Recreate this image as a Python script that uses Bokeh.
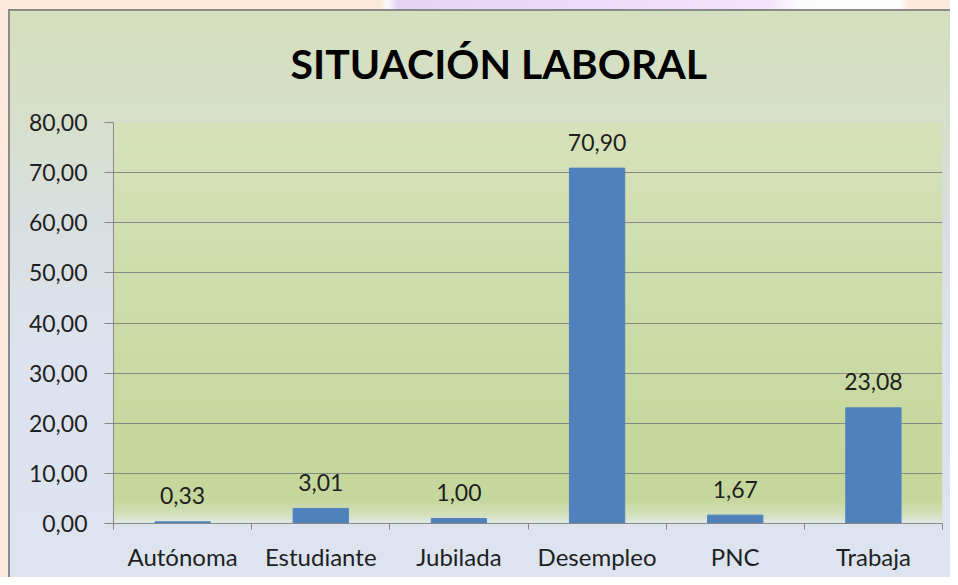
import numpy as np
from bokeh.plotting import figure
from bokeh.models import ColumnDataSource, FixedTicker, Range1d
from bokeh.core.properties import value
from bokeh.embed import file_html
from bokeh.resources import INLINE

# ---- data ----
categories = ["Autónoma", "Estudiante", "Jubilada", "Desempleo", "PNC", "Trabaja"]
values = [0.33, 3.01, 1.00, 70.90, 1.67, 23.08]
y_ticks = [0, 10, 20, 30, 40, 50, 60, 70, 80]
title_text = "SITUACIÓN LABORAL"

FONT = "Lato"
TEXT = "#1f1f1f"
GRID = "#878787"
PEACH = "#fde9dc"

n = len(categories)
centers = [i + 0.5 for i in range(n)]
bounds = list(range(n + 1))
labels = [f"{v:.2f}".replace(".", ",") for v in values]

src = ColumnDataSource(dict(x=centers, top=values, label=labels))

p = figure(width=950, height=577, output_backend="svg", toolbar_location=None,
           x_range=Range1d(bounds[0], bounds[-1]),
           y_range=Range1d(y_ticks[0], y_ticks[-1]),
           min_border_left=113, min_border_right=8,
           min_border_top=122, min_border_bottom=54)

# chart-area background (CSS layers behind a transparent canvas)
p.border_fill_color = None
p.background_fill_color = None
p.outline_line_color = None
p.styles = {
    "background": ", ".join([
        f"linear-gradient({PEACH},{PEACH}) left top / 8px 100% no-repeat",
        f"linear-gradient(to right, {PEACH} 0px, {PEACH} 380px, #fbf8fd 388px, #e3d3f5 398px, "
        f"#ecdcfb 600px, #f3e4fb 770px, #fbfafc 795px, #fdfcfd 900px, {PEACH} 908px) left top / 100% 9px no-repeat",
        "linear-gradient(#8a8a8a,#8a8a8a) 8px 9px / 2px 100% no-repeat",
        "linear-gradient(#8a8a8a,#8a8a8a) 8px 9px / 100% 2px no-repeat",
        "linear-gradient(to bottom, #d4dfbb 0%, #d6dfc8 18%, #d9dfe0 38%, #dce3ee 60%, #dde4f0 100%)",
    ]),
}

# plot-area green gradient (decoration)
rows = 400
ys = np.linspace(y_ticks[0], y_ticks[-1], rows)
stop_y = [0.0, 1.5, 4.5, 10.0, 80.0]
stop_r = [227, 213, 198, 197, 215]
stop_g = [233, 225, 216, 215, 226]
stop_b = [231, 192, 157, 155, 186]
r = np.interp(ys, stop_y, stop_r).astype(np.uint32)
g = np.interp(ys, stop_y, stop_g).astype(np.uint32)
b = np.interp(ys, stop_y, stop_b).astype(np.uint32)
col = (255 << 24) | (b << 16) | (g << 8) | r
img = np.repeat(col[:, None], 4, axis=1).astype(np.uint32)
p.image_rgba(image=[img], x=bounds[0], y=y_ticks[0], dw=bounds[-1] - bounds[0],
             dh=y_ticks[-1] - y_ticks[0], level="image")

# bars
p.vbar(x="x", top="top", bottom=0, width=0.4, source=src,
       fill_color="#4f81bd", line_color="#4f81bd")

# data labels
p.text(x="x", y="top", text="label", source=src, text_align="center",
       text_baseline="alphabetic", y_offset=-26,
       text_font=value(FONT), text_font_size="23px", text_color=TEXT)

# title
p.title.text = title_text
p.title.text_font = FONT
p.title.text_font_size = "41px"
p.title.text_font_style = "bold"
p.title.text_color = "#000000"
p.title.align = "left"
p.title.offset = 177
p.title.standoff = 69

# y axis
yax = p.yaxis[0]
yax.ticker = FixedTicker(ticks=y_ticks)
yax.major_label_overrides = {t: f"{t:.2f}".replace(".", ",") for t in y_ticks}
yax.major_tick_out = 9
yax.major_tick_in = 0
yax.minor_tick_out = 0
yax.minor_tick_in = 0
yax.axis_line_color = GRID
yax.major_tick_line_color = GRID
yax.major_label_text_font = FONT
yax.major_label_text_font_size = "23px"
yax.major_label_text_color = TEXT
yax.major_label_standoff = 17

# x axis: labels at centres, tick marks at category boundaries
xax = p.xaxis[0]
xax.ticker = FixedTicker(ticks=centers, minor_ticks=bounds)
xax.major_label_overrides = {c: cat for c, cat in zip(centers, categories)}
xax.major_tick_out = 0
xax.major_tick_in = 0
xax.minor_tick_out = 6
xax.minor_tick_in = 0
xax.minor_tick_line_color = GRID
xax.axis_line_color = GRID
xax.major_label_text_font = FONT
xax.major_label_text_font_size = "24px"
xax.major_label_text_color = TEXT
xax.major_label_standoff = 12

p.xgrid.visible = False
p.ygrid.ticker = FixedTicker(ticks=y_ticks)
p.ygrid.grid_line_color = GRID

open("out.html", "w").write(file_html(p, INLINE))
